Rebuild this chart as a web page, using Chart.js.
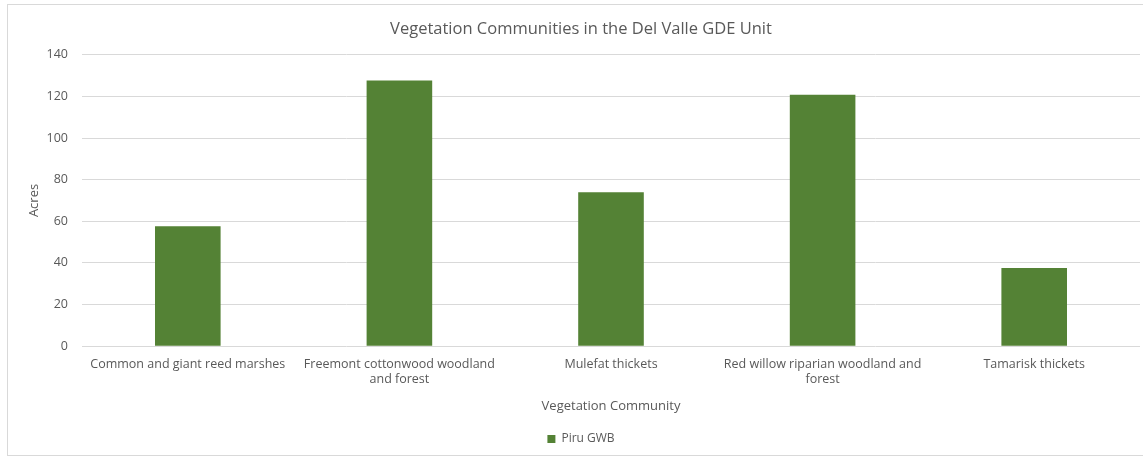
<!DOCTYPE html>
<html><head><meta charset="utf-8">
<script src="https://cdn.jsdelivr.net/npm/chart.js@4"></script>
<style>
html,body{margin:0;padding:0;background:#fff;}
#wrap{position:absolute;left:7px;top:4px;width:1140px;height:452px;border:1px solid #d9d9d9;box-sizing:border-box;}
</style></head><body>
<div id="wrap"><canvas id="c"></canvas></div>
<script>
const categories = [
  "Common and giant reed marshes",
  ["Freemont cottonwood woodland", "and forest"],
  "Mulefat thickets",
  ["Red willow riparian woodland and", "forest"],
  "Tamarisk thickets"
];
const piruValues = [57.6, 127.6, 74, 120.8, 37.6];
const yTicks = [0, 20, 40, 60, 80, 100, 120, 140];
const FONT = "'Open Sans', sans-serif";
const GRAY = "#595959";
Chart.defaults.font.family = FONT;
Chart.defaults.color = GRAY;
new Chart(document.getElementById('c'), {
  type: 'bar',
  data: {
    labels: categories,
    datasets: [{
      label: 'Piru GWB',
      data: piruValues,
      backgroundColor: '#548235',
      borderWidth: 0,
      categoryPercentage: 1,
      barPercentage: 0.31
    }]
  },
  options: {
    responsive: true,
    maintainAspectRatio: false,
    animation: false,
    layout: { padding: { left: 14, right: 6, top: 4, bottom: 0 } },
    plugins: {
      title: { display: true, text: 'Vegetation Communities in the Del Valle GDE Unit', color: GRAY,
        font: { size: 16.5, weight: 'normal', family: FONT }, padding: { top: 10, bottom: 16 } },
      legend: { position: 'bottom', labels: { boxWidth: 8, boxHeight: 8, color: GRAY, font: { size: 12, family: FONT }, padding: 10 } },
      tooltip: { enabled: false }
    },
    scales: {
      x: {
        grid: { display: false, drawTicks: false },
        border: { display: false },
        ticks: { color: GRAY, font: { size: 12.5, family: FONT, lineHeight: 1.25 }, maxRotation: 0, autoSkip: false, padding: 10 },
        title: { display: true, text: 'Vegetation Community', color: GRAY, font: { size: 13, family: FONT }, padding: { top: 1, bottom: 9 } }
      },
      y: {
        min: 0, max: 140,
        afterBuildTicks: (s) => { s.ticks = yTicks.map(v => ({ value: v })); },
        afterFit: (s) => { s.width = 60; },
        grid: { color: '#d9d9d9', drawTicks: false, lineWidth: 1 },
        border: { display: false },
        ticks: { color: GRAY, font: { size: 12.5, family: FONT }, padding: 14 },
        title: { display: true, text: 'Acres', color: GRAY, font: { size: 13, family: FONT }, padding: { bottom: 14 } }
      }
    }
  }
});
</script>
</body></html>
